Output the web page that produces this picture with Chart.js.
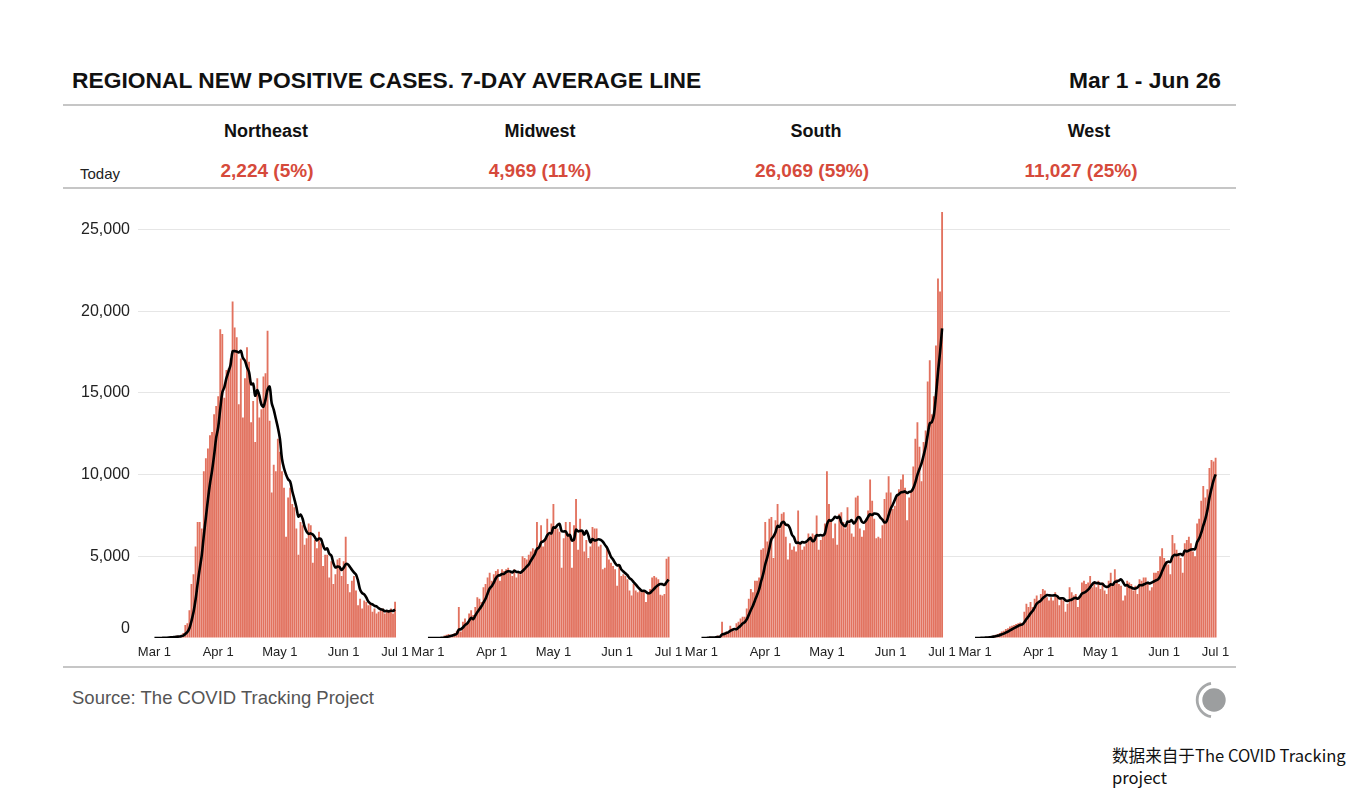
<!DOCTYPE html>
<html>
<head>
<meta charset="utf-8">
<script src="https://cdn.jsdelivr.net/npm/chart.js@4.4.1/dist/chart.umd.min.js"></script>
<style>
  html, body { margin: 0; padding: 0; background: #fff; }
  body { width: 1363px; height: 790px; position: relative; overflow: hidden;
         font-family: "Liberation Sans", Arial, Helvetica, sans-serif; color: #111; }
  .abs { position: absolute; white-space: nowrap; }
  #title { left: 72px; top: 67px; font-size: 22.8px; line-height: 26px; font-weight: bold; color: #111; }
  #range { right: 142px; top: 67px; font-size: 22.8px; line-height: 26px; font-weight: bold; color: #111; }
  .rule { position: absolute; left: 63px; width: 1173px; height: 1.5px; background: #c6c6c6; }
  .region { position: absolute; width: 240px; text-align: center; top: 121px;
            font-size: 18px; line-height: 20px; font-weight: bold; color: #111; }
  .today { position: absolute; width: 240px; text-align: center; top: 160px;
           font-size: 19px; line-height: 22px; font-weight: bold; color: #d64a3b; }
  #todayLbl { left: 80px; top: 165px; font-size: 15px; line-height: 18px; color: #222; }
  #source { left: 72px; top: 687px; font-size: 18.5px; line-height: 22px; color: #555; }
  #note { left: 1112px; top: 744px; font-size: 16.6px; line-height: 22px; color: #111;
          font-family: "Noto Sans CJK SC", "Noto Sans", sans-serif; white-space: normal; width: 260px; }
  #chartBox { position: absolute; left: 0; top: 190px; width: 1363px; height: 470px; }
  #logo { position: absolute; left: 1190px; top: 677px; }
</style>
</head>
<body>
<div id="title" class="abs">REGIONAL NEW POSITIVE CASES. 7-DAY AVERAGE LINE</div>
<div id="range" class="abs">Mar 1 - Jun 26</div>
<div class="rule" style="top:104px"></div>
<div id="todayLbl" class="abs">Today</div>
<div class="rule" style="top:187px"></div>
<div id="headers"></div>
<div id="chartBox"><canvas id="c" width="1363" height="470"></canvas></div>
<div class="rule" style="top:666px"></div>
<div id="source" class="abs">Source: The COVID Tracking Project</div>
<svg id="logo" width="48" height="48" viewBox="0 0 48 48">
  <circle cx="24" cy="23" r="11.7" fill="#9c9e9f"/>
  <path d="M 21 6.3 A 17 17 0 0 0 21 39.7" fill="none" stroke="#a6a8a9" stroke-width="2.8"/>
</svg>
<div id="note" class="abs">数据来自于The COVID Tracking<br>project</div>

<script>
// ---------------- data ----------------
const regions = ['Northeast', 'Midwest', 'South', 'West'];
const todayValues = ['2,224 (5%)', '4,969 (11%)', '26,069 (59%)', '11,027 (25%)'];

// daily new positive cases, Mar 1 .. Jun 26 (118 days)
const northeast = [
  0,0,0,10,20,30,50,60,80,100,
  100,150,100,200,300,800,900,1700,3300,3900,
  5600,7100,7100,6700,10200,11000,11600,12400,12600,13700,
  14200,14800,18900,18600,14700,16400,16500,17100,20600,19000,
  18400,14300,17100,13500,15900,17800,16900,13200,14500,12000,
  15900,13500,14000,16000,16200,18800,13300,8900,10600,10200,
  12200,11400,10200,9200,6200,8600,9200,8200,8000,6700,
  5100,7100,6900,5700,6100,7000,6900,4600,6000,5500,
  6500,5800,4400,5100,5100,3700,4700,3300,3900,4800,
  4900,3800,4700,6200,3300,2800,3500,3800,2900,2000,
  2400,1800,2300,2200,2000,2100,1600,1800,1500,1600,
  1700,1800,1500,1700,1600,1800,1500,2224
];
const midwest = [
  0,0,0,0,0,10,20,50,150,200,
  250,200,250,300,450,1900,400,1000,1200,900,
  1500,1700,1400,1900,2500,2400,2200,3100,3300,3700,
  4000,3500,3900,4100,4200,3500,4200,4100,4200,4300,
  4000,3800,4200,3700,4100,3900,5000,4900,4800,5100,
  5300,5500,5400,7100,5600,6900,5600,6100,7300,6300,
  7000,8200,6800,6700,6500,4300,6100,7100,6400,7100,
  4300,6900,8500,5400,7300,6500,5300,6000,4900,5600,
  6800,6700,6700,5600,5700,4200,4300,5600,4800,4600,
  4400,4200,3200,4400,3800,3900,3800,3600,2900,2600,
  3300,2900,2800,2900,2800,2900,2200,2700,3000,3700,
  3800,3700,3600,2650,2600,2700,4850,4969
];
const south = [
  0,0,10,20,80,30,50,100,150,100,
  1000,300,400,350,750,600,450,900,1000,1200,
  1300,1300,1800,2400,3000,2800,3500,3500,3700,5400,
  5500,7100,5900,7300,7400,4900,7200,8200,6700,7600,
  7700,6200,4800,5800,5400,5600,5300,7800,5800,5400,
  5600,5800,6400,6100,6400,6300,7500,5400,6000,6200,
  7000,10200,8200,7200,6100,7000,5700,7600,7700,7100,
  6700,8000,7000,6400,6200,8600,8700,6700,6200,6600,
  7300,7800,9700,8400,7300,6100,6200,6100,6900,8500,
  8900,9900,8900,7900,8100,8800,9100,9700,10000,9200,
  7200,8600,9000,10500,12200,13200,11700,9600,12000,12700,
  15700,17000,13700,14800,17900,22000,21200,26069
];
const west = [
  0,0,10,20,40,60,80,100,130,160,
  200,250,300,400,450,550,600,700,750,800,
  850,900,950,900,1600,2100,1900,2200,1900,2400,
  2600,2300,2700,3000,2900,2500,2300,2500,2300,2800,
  2600,2000,2500,2300,1600,2100,3100,2800,2600,2700,
  1900,2500,3400,3500,3300,3400,3800,3100,3300,3100,
  3500,3000,3400,2900,2700,3500,4000,3300,4200,3600,
  3300,3200,2300,2600,3500,3400,3300,2900,3200,2700,
  3600,3500,3700,3700,3300,2900,3100,4000,4000,4100,
  5000,5500,4900,4700,4500,3900,6300,5800,5400,5200,
  4900,4000,5800,6000,6200,5800,5300,5000,7000,7300,
  8400,9300,8600,9100,10400,10900,10800,11027
];
const seriesList = [northeast, midwest, south, west];

// x tick labels and their day index within each panel (day 0 = Mar 1)
const tickLabels = ['Mar 1', 'Apr 1', 'May 1', 'Jun 1', 'Jul 1'];
const tickDays = [0, 31, 61, 92, 117];
// y tick values
const yTickValues = [0, 5000, 10000, 15000, 20000, 25000];

// ---------------- layout constants ----------------
const nameCenters = [266, 540, 816, 1089];
const valueCenters = [267, 540, 812, 1081];
const PANEL_SPAN = 133;          // days between panel origins on the shared axis
const X_MIN = -8, X_MAX = 3 * PANEL_SPAN + 124;
const BAR_COLOR = '#e2725f';
const FONT = '"Liberation Sans", Arial, Helvetica, sans-serif';

// headers
const hdr = document.getElementById('headers');
regions.forEach((r, i) => {
  const a = document.createElement('div');
  a.className = 'region'; a.style.left = (nameCenters[i] - 120) + 'px'; a.textContent = r;
  hdr.appendChild(a);
  const b = document.createElement('div');
  b.className = 'today'; b.style.left = (valueCenters[i] - 120) + 'px'; b.textContent = todayValues[i];
  hdr.appendChild(b);
});

// trailing 7-day average of the daily values
function sevenDay(arr) {
  return arr.map((_, i) => {
    const s = arr.slice(Math.max(0, i - 6), i + 1);
    return s.reduce((a, b) => a + b, 0) / s.length;
  });
}

const datasets = [];
const tickMap = new Map();
seriesList.forEach((vals, p) => {
  const off = p * PANEL_SPAN;
  tickDays.forEach((d, k) => tickMap.set(off + d, tickLabels[k]));
  datasets.push({
    type: 'line',
    label: regions[p] + ' 7-day average',
    data: sevenDay(vals).map((v, i) => ({ x: off + i, y: v })),
    borderColor: '#000', borderWidth: 2.6, pointRadius: 0, tension: 0.35,
    fill: false, order: 1
  });
  datasets.push({
    type: 'bar',
    label: regions[p],
    data: vals.map((v, i) => ({ x: off + i, y: v })),
    backgroundColor: BAR_COLOR, borderWidth: 0,
    barPercentage: 1, categoryPercentage: 0.9, grouped: false, order: 2
  });
});
const tickValues = Array.from(tickMap.keys()).sort((a, b) => a - b);

new Chart(document.getElementById('c'), {
  type: 'bar',
  data: { datasets },
  options: {
    responsive: false, animation: false, devicePixelRatio: 1,
    layout: { padding: { left: 0, right: 133, top: 6.8, bottom: 0 } },
    plugins: { legend: { display: false }, tooltip: { enabled: false } },
    scales: {
      x: {
        type: 'linear', min: X_MIN, max: X_MAX, offset: false,
        grid: { display: false, drawTicks: false }, border: { display: false },
        afterBuildTicks: s => { s.ticks = tickValues.map(v => ({ value: v })); },
        afterFit: s => { s.height = 22; s.paddingLeft = 0; s.paddingRight = 0; },
        ticks: {
          autoSkip: false, maxRotation: 0, padding: 7, color: '#222',
          font: { family: FONT, size: 13 },
          callback: v => tickMap.get(v) || ''
        }
      },
      y: {
        min: 0, max: 27000,
        afterBuildTicks: s => { s.ticks = yTickValues.map(v => ({ value: v })); },
        afterFit: s => { s.width = 138; s.paddingTop = 0; s.paddingBottom = 0; },
        grid: { drawTicks: false, color: c => (c.tick && c.tick.value === 0) ? 'rgba(0,0,0,0)' : '#e6e6e6', lineWidth: 1 },
        border: { display: false },
        ticks: {
          padding: 8, color: '#222', font: { family: FONT, size: 16 },
          // the zero label sits slightly above the baseline in the original
          callback: v => v === 0 ? ['0', ''] : Number(v).toLocaleString('en-US')
        }
      }
    }
  }
});
</script>
</body>
</html>
